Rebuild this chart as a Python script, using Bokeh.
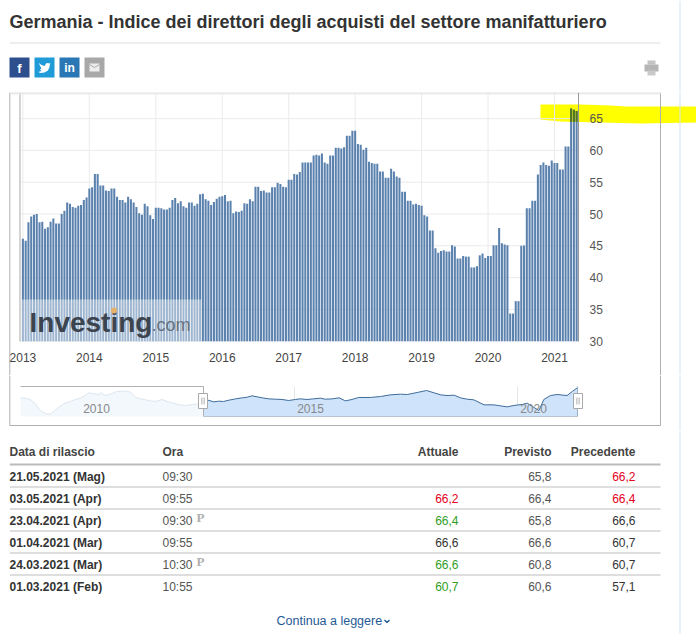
from bokeh.plotting import figure
from bokeh.layouts import column
from bokeh.models import Range1d, FixedTicker, LinearAxis
from bokeh.core.properties import value
from bokeh.embed import file_html
from bokeh.resources import INLINE

# ---------- data ----------
pmi = [46.1,45.8,48.7,49.6,49.9,50.0,48.7,48.8,47.7,47.9,48.8,49.3,48.5,48.5,50.0,50.5,51.8,51.6,51.1,51.0,
       51.3,51.4,52.2,52.6,54.0,54.2,56.3,56.3,54.5,54.5,53.7,53.6,54.0,54.0,52.7,52.2,52.2,51.8,52.7,52.3,
       51.8,51.1,50.1,49.9,51.6,51.2,49.8,49.2,51.0,51.0,50.9,50.7,50.7,51.0,52.2,52.5,51.7,52.0,51.2,51.0,
       51.8,51.8,51.3,51.6,53.1,53.2,52.3,52.1,51.4,51.9,52.4,52.7,52.8,53.0,52.0,52.1,50.1,50.4,50.3,50.5,
       51.7,51.6,52.3,52.0,54.3,54.3,53.6,53.7,53.4,53.4,54.2,54.2,54.9,54.7,54.3,54.2,55.4,55.4,56.3,56.2,
       56.6,58.1,58.1,58.1,58.1,59.2,59.3,59.2,59.5,58.1,57.9,59.2,59.2,60.4,60.4,60.3,60.5,62.3,62.3,63.1,
       63.1,61.0,60.9,60.1,60.4,58.2,58.0,57.9,57.9,56.7,56.7,55.7,55.7,57.1,56.7,55.9,55.7,53.5,53.5,52.1,
       52.1,51.5,51.6,51.4,51.3,49.8,49.6,47.4,47.4,44.6,43.9,44.2,44.3,44.1,44.1,45.1,44.9,43.0,43.0,43.4,
       43.3,43.3,41.6,41.6,41.8,43.5,43.8,43.1,43.4,43.4,45.1,45.1,47.8,45.4,45.2,45.1,34.35,34.35,36.3,36.3,
       45.0,45.05,50.9,50.9,52.1,52.1,56.2,57.7,58.1,57.7,57.6,58.4,58.0,58.0,57.0,57.0,60.6,60.6,66.6,66.4,66.2]
periods_per_year = 24
first_year = 2013
year_ticks = [2013,2014,2015,2016,2017,2018,2019,2020,2021]
pmi_ticks = [30,35,40,45,50,55,60,65]

nav_year = [2008.86,2008.97,2009.08,2009.19,2009.30,2009.42,2009.53,2009.64,2009.75,2009.87,2009.98,2010.09,2010.20,
            2010.31,2010.39,2010.50,2010.60,2010.65,2010.76,2010.87,2011.02,2011.14,2011.25,2011.32,2011.43,2011.55,
            2011.66,2011.77,2011.88,2012.03,2012.14,2012.26,2012.41,2012.56,2012.71,2012.84,2012.96,2013.06,2013.19,
            2013.30,2013.41,2013.53,2013.68,2013.83,2013.94,2014.05,2014.16,2014.28,2014.42,2014.57,2014.72,2014.87,
            2015.02,2015.13,2015.28,2015.43,2015.58,2015.69,2015.85,2016.00,2016.14,2016.29,2016.44,2016.70,2016.93,
            2017.15,2017.38,2017.53,2017.75,2017.96,2018.13,2018.28,2018.42,2018.58,2018.72,2018.87,2019.02,2019.25,
            2019.47,2019.62,2019.77,2019.92,2020.10,2020.22,2020.37,2020.48,2020.59,2020.74,2020.89,2021.11,2021.23,2021.34]
nav_value = [52.7,52.2,49.8,44.0,34.3,29.5,29.0,35.3,40.6,45.4,47.4,50.3,52.2,
             56.0,59.9,58.5,57.0,59.9,56.0,58.0,61.9,62.3,62.3,60.9,53.6,51.2,
             49.8,48.3,47.4,50.3,47.4,45.4,42.5,41.6,43.0,44.0,45.4,49.3,46.9,
             47.8,47.4,49.3,51.2,52.7,53.6,55.6,54.1,52.7,51.2,50.7,50.3,48.8,
             50.3,51.2,50.3,51.2,52.2,50.7,51.2,52.7,48.3,50.3,53.2,53.2,54.6,
             57.0,58.0,57.5,60.4,63.3,59.9,57.0,56.0,56.5,52.7,50.7,49.8,42.5,
             42.5,41.0,39.6,41.6,43.0,44.9,38.7,34.3,50.3,56.0,57.5,56.0,61.9,67.2]
nav_labels = ["2010","2015","2020"]
nav_grid_years = [2015,2020]

title_text = "Germania - Indice dei direttori degli acquisti del settore manifatturiero"
col_headers = ["Data di rilascio","Ora","Attuale","Previsto","Precedente"]
rel_dates = ["21.05.2021 (Mag)","03.05.2021 (Apr)","23.04.2021 (Apr)","01.04.2021 (Mar)","24.03.2021 (Mar)","01.03.2021 (Feb)"]
rel_times = ["09:30","09:55","09:30","09:55","10:30","10:55"]
rel_actual = ["","66,2","66,4","66,6","66,6","60,7"]
rel_forecast = ["65,8","66,4","65,8","66,6","60,8","60,6"]
rel_previous = ["66,2","66,4","66,6","60,7","60,7","57,1"]
RED, GREEN, BLACK = "#e3001b", "#2f9e1e", "#333333"
actual_colors = [BLACK, RED, GREEN, BLACK, GREEN, GREEN]
previous_colors = [RED, RED, BLACK, BLACK, BLACK, BLACK]
prelim_rows = [2, 4]

# ---------- page geometry (screenshot pixels) ----------
PAGE_W, HEAD_B, CHART_B, NAV_B, PAGE_B = 696, 92, 375, 431, 634
BOX_L, BOX_R, DIVIDER = 9.3, 660, 679
F = "Liberation Sans"
BAR = "#5b82ae"
BOXLINE = "#b0b0b0"
DIVCOL = "#d3e4f0"
PX = dict(x_range_name="px", y_range_name="px")


def base_fig(top, bottom, x_range, y_range):
    p = figure(width=PAGE_W, height=bottom - top, x_range=x_range, y_range=y_range,
               x_axis_location=None, y_axis_location=None, toolbar_location=None, output_backend="svg",
               min_border=0, outline_line_color=None, frame_align=False)
    p.grid.visible = False
    p.extra_x_ranges["px"] = Range1d(0, PAGE_W)
    p.extra_y_ranges["px"] = Range1d(bottom, top)
    return p


def page_fig(top, bottom):
    return base_fig(top, bottom, Range1d(0, PAGE_W), Range1d(bottom, top))


def txt(p, x, y, s, size=12, color="#333333", style="normal", align="left", font=F):
    p.text(x=[x], y=[y], text=[s], text_font=value(font), text_font_size=value(f"{size}px"), text_color=color,
           text_font_style=style, text_align=align, text_baseline="middle", **PX)


def box(p, left, right, top, bottom, color, line=None):
    p.quad(left=[left], right=[right], top=[top], bottom=[bottom], fill_color=color, line_color=line, **PX)


# ---------- header ----------
head = page_fig(0, HEAD_B)
box(head, DIVIDER, DIVIDER + 1, 0, HEAD_B, DIVCOL)
txt(head, 9, 21, title_text, size=18, style="bold", color="#333333")
box(head, BOX_L, BOX_R, 42, 43, "#dddddd")
btn_x = [9, 34, 59, 84]
btn_c = ["#2d4f8e", "#1f9bd8", "#2a77b5", "#a8a8a8"]
for bx, bc in zip(btn_x, btn_c):
    box(head, bx, bx + 20, 57, 77, bc)
txt(head, 19, 67.5, "f", size=13, color="white", style="bold", align="center")
txt(head, 69, 67.5, "in", size=12, color="white", style="bold", align="center")
head.patch(x=[38.5, 41, 44, 46, 50, 49, 49.2, 47.5, 44, 40, 37.8, 41, 39.5, 41, 39.3],
           y=[62.5, 64.5, 65.5, 62.5, 63, 65, 66, 70, 72, 72.5, 71.5, 70.5, 69, 68, 65],
           fill_color="white", line_color=None, **PX)
box(head, 89, 99, 63, 71, "#eeeeee")
head.line(x=[89, 94, 99], y=[64, 67, 64], line_color="#a8a8a8", line_width=1, **PX)
box(head, 647, 655, 60, 64, "#c4c4c4")
box(head, 644, 658, 64, 71, "#b5b5b5")
box(head, 647, 655, 70, 75, "#c9c9c9")

# ---------- main chart ----------
years = [first_year + i / periods_per_year for i in range(len(pmi))]
PX_PER_YEAR = 66.45
X0_PX = 22.4
Y30_PX = 340.7
PX_PER_POINT = 6.36
yr = lambda px: first_year + (px - X0_PX) / PX_PER_YEAR
pt = lambda px: 30 + (Y30_PX - px) / PX_PER_POINT
chart = base_fig(HEAD_B, CHART_B, Range1d(yr(0), yr(PAGE_W)), Range1d(pt(CHART_B), pt(HEAD_B)))
plot_left, plot_right = yr(20), yr(578)
plot_top = pt(HEAD_B)

# yellow marker stroke first, under everything
yellow_px_x = [540, 580, 610, 625, 696, 696, 640, 600, 560, 540]
yellow_px_y = [104, 104, 105, 106, 106, 122, 123, 122, 121, 119]
chart.patch(x=yellow_px_x, y=yellow_px_y, fill_color="#ffff00", line_color=None, **PX)

# grid drawn from the tick lists so that it ends at the plot edges
chart.segment(x0=year_ticks, x1=year_ticks, y0=[30] * len(year_ticks), y1=[plot_top] * len(year_ticks), line_color="#ebebeb")
chart.segment(x0=[plot_left] * len(pmi_ticks), x1=[plot_right] * len(pmi_ticks), y0=pmi_ticks, y1=pmi_ticks, line_color="#ebebeb")

BAR_W = 2.05 / PX_PER_YEAR
chart.vbar(x=years, top=pmi, bottom=30, width=BAR_W, fill_color=BAR, line_color=None)
HIGHLIGHT_LOW = 64.5
hi = [(x, v) for x, v in zip(years, pmi) if v > HIGHLIGHT_LOW]
chart.vbar(x=[h[0] for h in hi], top=[h[1] for h in hi], bottom=HIGHLIGHT_LOW, width=BAR_W,
           fill_color="#56781c", line_color=None)

# watermark
chart.quad(left=[21], right=[201], top=[299], bottom=[341], fill_color="white", fill_alpha=0.42, line_color=None, **PX)
txt(chart, 29, 322, "Investing", size=28, style="bold", color="#3c4450")
txt(chart, 151, 324, ".com", size=18, color="#667280")
chart.scatter(x=[113.5], y=[310], size=6, fill_color="#e6b26c", line_color=None, **PX)

x_axis = LinearAxis(fixed_location=30, ticker=FixedTicker(ticks=year_ticks), bounds=(plot_left, plot_right))
y_axis = LinearAxis(fixed_location=plot_right, ticker=FixedTicker(ticks=pmi_ticks), bounds=(30, plot_top))
for ax in (x_axis, y_axis):
    ax.major_tick_line_color = None
    ax.minor_tick_line_color = None
    ax.major_label_text_font = F
    ax.major_label_text_font_size = "12px"
    ax.major_label_text_color = "#555555"
x_axis.axis_line_color = None
x_axis.major_label_text_color = "#444444"
x_axis.major_label_standoff = 6
y_axis.axis_line_color = "#999999"
y_axis.major_label_standoff = 5
chart.add_layout(x_axis, "below")
chart.add_layout(y_axis, "right")

box(chart, 19, 20, HEAD_B, 341, "#aaaaaa")
box(chart, BOX_L - .5, BOX_L + .5, HEAD_B, CHART_B, BOXLINE)
box(chart, BOX_R - .5, BOX_R + .5, HEAD_B, CHART_B, BOXLINE)
box(chart, DIVIDER, DIVIDER + 1, HEAD_B, CHART_B, DIVCOL)
box(chart, BOX_L, BOX_R, HEAD_B, HEAD_B + 1, "#cccccc")
box(chart, BOX_L, BOX_R, HEAD_B + 1, HEAD_B + 2, "#eeeeee")

# ---------- navigator ----------
NAV_PX_PER_YEAR = 44.6
N_L, N_R, N_T, N_B, MASK = 20, 577, 386, 416, 203
nx = lambda px: 2015 + (px - 294) / NAV_PX_PER_YEAR
nv = lambda px: 63.3 - (px - 390) / .69
nv_low = nv(N_B)
nav = base_fig(CHART_B, NAV_B, Range1d(nx(0), nx(PAGE_W)), Range1d(nv(NAV_B), nv(CHART_B)))
left_idx = [i for i, y in enumerate(nav_year) if y <= nx(MASK) + .01]
right_idx = [i for i, y in enumerate(nav_year) if y >= nx(MASK) - .01]
lx, ly = [nav_year[i] for i in left_idx], [nav_value[i] for i in left_idx]
rx, ry = [nav_year[i] for i in right_idx], [nav_value[i] for i in right_idx]
nav.segment(x0=nav_grid_years, x1=nav_grid_years, y0=[nv_low] * 2, y1=[nv(N_T)] * 2, line_color="#e6e6e6")
nav.varea(x=lx, y1=nv_low, y2=ly, fill_color="#f3f8fd")
nav.line(x=lx, y=ly, line_color="#dce6ef", line_width=1)
nav.varea(x=rx, y1=nv_low, y2=ry, fill_color="#cfe3fb")
nav.line(x=rx, y=ry, line_color="#3d6c9a", line_width=1)
nav_label_px = [96, 310, 533]
nav.text(x=nav_label_px, y=[408] * 3, text=nav_labels, text_font=value(F), text_font_size=value("12px"),
         text_color="#888888", text_align="center", text_baseline="middle", **PX)
box(nav, BOX_L - .5, BOX_L + .5, CHART_B, 425, BOXLINE)
box(nav, BOX_R - .5, BOX_R + .5, CHART_B, 425, BOXLINE)
box(nav, DIVIDER, DIVIDER + 1, CHART_B, NAV_B, DIVCOL)
box(nav, BOX_L, BOX_R, 424.5, 425.5, BOXLINE)
box(nav, N_L, MASK, N_T - .5, N_T + .5, BOXLINE)
box(nav, MASK - .5, MASK + .5, N_T, N_B, BOXLINE)
box(nav, MASK, N_R, N_B - .5, N_B + .5, "#b8c6d4")
box(nav, N_R - .5, N_R + .5, N_T, N_B, "#9ab0c6")
for cx in (MASK - .5, N_R + .5):
    box(nav, cx - 4.5, cx + 4.5, 393, 408, "white", line="#a8a8a8")
    box(nav, cx - 1.5, cx - .7, 397, 404, "#999999")
    box(nav, cx + .7, cx + 1.5, 397, 404, "#999999")

# ---------- table ----------
table = page_fig(NAV_B, PAGE_B)
box(table, DIVIDER, DIVIDER + 1, NAV_B, PAGE_B, DIVCOL)
col_x = [9, 162, 458, 551, 635]
col_al = ["left", "left", "right", "right", "right"]
for x, h, a in zip(col_x, col_headers, col_al):
    txt(table, x, 451, h, style="bold", color="#444444", align=a)
box(table, BOX_L, BOX_R, 463, 465, "#bbbbbb")
row_y = [476, 498, 520, 542, 564, 586]
rule_y = [486, 508, 530, 552, 574]
for ry_ in rule_y:
    box(table, BOX_L, BOX_R, ry_, ry_ + 1, "#bdbdbd")
for y, d, t, a, ac, f, pr, pc in zip(row_y, rel_dates, rel_times, rel_actual, actual_colors, rel_forecast, rel_previous, previous_colors):
    txt(table, col_x[0], y, d, style="bold")
    txt(table, col_x[1], y, t, color="#555555")
    if a:
        txt(table, col_x[2], y, a, color=ac, align="right")
    txt(table, col_x[3], y, f, color="#555555", align="right")
    txt(table, col_x[4], y, pr, color=pc, align="right")
for r in prelim_rows:
    txt(table, 196, row_y[r] - 3, "P", size=13, color="#b0b0b0", style="bold", font="Liberation Serif")
txt(table, 276, 620.5, "Continua a leggere", size=12.5, color="#1f5a96")
table.line(x=[384, 386.5, 389], y=[619.5, 622, 619.5], line_color="#1f5a96", line_width=1.4, **PX)

page = column(head, chart, nav, table, spacing=0)
open("out.html", "w").write(file_html(page, INLINE))
